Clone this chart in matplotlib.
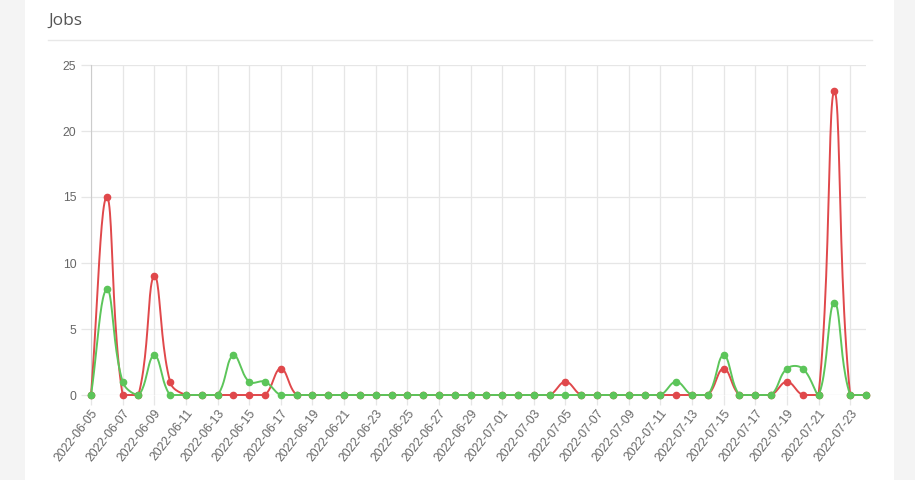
import numpy as np
import pandas as pd
import matplotlib
matplotlib.use('Agg')
import matplotlib.pyplot as plt
from matplotlib.patches import Rectangle
from matplotlib.lines import Line2D

# data
dates = pd.date_range('2022-06-05', '2022-07-24').strftime('%Y-%m-%d').tolist()

red_jobs = [0, 15, 0, 0, 9, 1, 0, 0, 0, 0, 0, 0, 2, 0, 0, 0, 0, 0, 0, 0,
            0, 0, 0, 0, 0, 0, 0, 0, 0, 0, 1, 0, 0, 0, 0, 0, 0, 0, 0, 0,
            2, 0, 0, 0, 1, 0, 0, 23, 0, 0]
green_jobs = [0, 8, 1, 0, 3, 0, 0, 0, 0, 3, 1, 1, 0, 0, 0, 0, 0, 0, 0, 0,
              0, 0, 0, 0, 0, 0, 0, 0, 0, 0, 0, 0, 0, 0, 0, 0, 0, 1, 0, 0,
              3, 0, 0, 0, 2, 2, 0, 7, 0, 0]

y_max = 25
red = '#e0484b'
green = '#5cc55a'
grid_col = '#e6e6e6'
text_col = '#666666'


def smooth(xs, ys, sx, sy, ymax, tension=0.4, n=24):
    # chart.js style cubic spline, done in pixel space
    px = np.asarray(xs, float) * sx
    py = np.asarray(ys, float) * sy
    m = len(px)
    cp_in = np.zeros((m, 2))
    cp_out = np.zeros((m, 2))
    for i in range(m):
        a = max(i - 1, 0)
        c = min(i + 1, m - 1)
        d01 = np.hypot(px[i] - px[a], py[i] - py[a])
        d12 = np.hypot(px[c] - px[i], py[c] - py[i])
        tot = d01 + d12
        s01 = d01 / tot if tot else 0
        s12 = d12 / tot if tot else 0
        fa, fb = tension * s01, tension * s12
        dx, dy = px[c] - px[a], py[c] - py[a]
        cp_in[i] = [px[i] - fa * dx, py[i] - fa * dy]
        cp_out[i] = [px[i] + fb * dx, py[i] + fb * dy]
    cp_in[:, 1] = np.clip(cp_in[:, 1], 0, ymax * sy)
    cp_out[:, 1] = np.clip(cp_out[:, 1], 0, ymax * sy)
    t = np.linspace(0, 1, n)[:, None]
    out = []
    for i in range(m - 1):
        p0 = np.array([px[i], py[i]])
        p3 = np.array([px[i + 1], py[i + 1]])
        b = ((1 - t) ** 3 * p0 + 3 * (1 - t) ** 2 * t * cp_out[i]
             + 3 * (1 - t) * t ** 2 * cp_in[i + 1] + t ** 3 * p3)
        out.append(b if i == 0 else b[1:])
    out = np.vstack(out)
    return out[:, 0] / sx, out[:, 1] / sy


fig = plt.figure(figsize=(9.15, 4.8), dpi=100)
fig.patch.set_facecolor('#f4f4f4')
fig.patches.append(Rectangle((25 / 915, 0), 869 / 915, 1.0, transform=fig.transFigure,
                             facecolor='white', edgecolor='none', zorder=-5))
fig.text(48 / 915, 1 - 21 / 480, 'Jobs', fontsize=12.5, color='#555555',
         family=['Open Sans', 'DejaVu Sans'], va='center', ha='left')
fig.add_artist(Line2D([48 / 915, 872 / 915], [1 - 40 / 480] * 2, transform=fig.transFigure,
                      color='#e8e8e8', lw=1))

left, right, top, bottom = 91, 866, 65, 395
ax = fig.add_axes([left / 915, 1 - bottom / 480, (right - left) / 915, (bottom - top) / 480])
ax.set_facecolor('white')

x = np.arange(len(dates))
sx = (right - left) / (len(dates) - 1)
sy = (bottom - top) / y_max

for vals, col in [(red_jobs, red), (green_jobs, green)]:
    cx, cy = smooth(x, vals, sx, sy, y_max)
    ax.plot(cx, cy, color=col, lw=1.4, clip_on=False, zorder=3)
    ax.plot(x, vals, 'o', color=col, ms=4.5, clip_on=False, zorder=4)

ax.set_xlim(0, len(dates) - 1)
ax.set_ylim(0, y_max)
ax.set_yticks([0, 5, 10, 15, 20, 25])
ax.set_xticks(x[::2])
ax.set_xticklabels(dates[::2], rotation=52, ha='right', rotation_mode='anchor')
ax.grid(True, color=grid_col, lw=0.9)
ax.set_axisbelow(True)
for s in ['top', 'right', 'bottom']:
    ax.spines[s].set_visible(False)
ax.spines['left'].set_color('#cccccc')
ax.tick_params(axis='both', colors=grid_col, length=7, width=0.9, labelcolor=text_col,
               labelsize=8.8)
ax.tick_params(axis='x', pad=2)
for lab in ax.get_xticklabels() + ax.get_yticklabels():
    lab.set_family(['Liberation Sans', 'DejaVu Sans'])

plt.savefig('out.png', dpi=100, facecolor=fig.get_facecolor())
